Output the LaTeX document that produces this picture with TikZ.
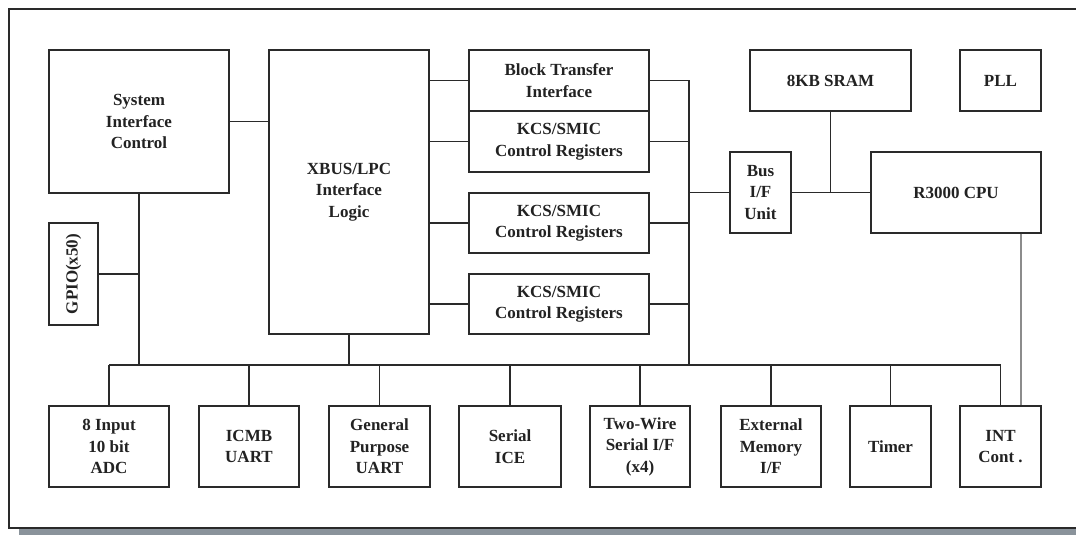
\documentclass[tikz,border=0pt]{standalone}
\usepackage{fontspec}
\setmainfont{Liberation Serif}
\definecolor{ln}{HTML}{2A2A2A}
\definecolor{txt}{HTML}{222222}
\definecolor{shadowgray}{HTML}{8A939B}
\definecolor{cpuline}{HTML}{8C8C8C}
\begin{document}
\begin{tikzpicture}[x=1pt,y=-1pt,
  blk/.style={draw=ln,line width=1.2pt,inner sep=0pt,align=center,text=txt,
    font=\fontsize{17}{21.5}\selectfont\bfseries},
  wire/.style={draw=ln,line width=1.3pt}]
\useasboundingbox (0,0) rectangle (1076,535);
% frame and shadow
\fill[shadowgray] (19,529) rectangle (1076,535);
\draw[ln,line width=1.3pt] (1076,9) -- (9,9) -- (9,528) -- (1076,528);
% top blocks
\node[blk,minimum width=180,minimum height=143] (sic) at (139,121.5) {System\\Interface\\Control};
\node[blk,minimum width=160,minimum height=284] (xbus) at (349,192) {XBUS/LPC\\Interface\\Logic};
\node[blk,minimum width=180,minimum height=61] (bti) at (559,80.5) {Block Transfer\\Interface};
\node[blk,minimum width=180,minimum height=61] (kcsa) at (559,141.5) {KCS/SMIC\\Control Registers};
\node[blk,minimum width=180,minimum height=60] (kcsb) at (559,223) {KCS/SMIC\\Control Registers};
\node[blk,minimum width=180,minimum height=60] (kcsc) at (559,304) {KCS/SMIC\\Control Registers};
\node[blk,minimum width=61,minimum height=81] (busif) at (760.5,192.5) {Bus\\I/F\\Unit};
\node[blk,minimum width=161,minimum height=61] (sram) at (830.5,80.5) {8KB SRAM};
\node[blk,minimum width=81,minimum height=61] (pll) at (1000.5,80.5) {PLL};
\node[blk,minimum width=170,minimum height=81] (cpu) at (956,192.5) {R3000 CPU};
\node[blk,minimum width=49,minimum height=102] (gpio) at (73.5,274) {\rotatebox{90}{GPIO(x50)}};
% bottom blocks
\node[blk,minimum width=120,minimum height=81] (adc) at (109,446.5) {8 Input\\10 bit\\ADC};
\node[blk,minimum width=100,minimum height=81] (icmb) at (249,446.5) {ICMB\\UART};
\node[blk,minimum width=101,minimum height=81] (gpu) at (379.5,446.5) {General\\Purpose\\UART};
\node[blk,minimum width=102,minimum height=81] (sice) at (510,446.5) {Serial\\ICE};
\node[blk,minimum width=100,minimum height=81] (tw) at (640,446.5) {Two-Wire\\Serial I/F\\(x4)};
\node[blk,minimum width=100,minimum height=81] (ext) at (771,446.5) {External\\Memory\\I/F};
\node[blk,minimum width=81,minimum height=81] (timer) at (890.5,446.5) {Timer};
\node[blk,minimum width=81,minimum height=81] (intc) at (1000.5,446.5) {INT\\Cont .};
% bus coordinates
\coordinate (rbtop) at (689,80.5);
\coordinate (rbbot) at (689,365);
\coordinate (bl) at (109,365);
\coordinate (br) at (1000.5,365);
\coordinate (cl) at (1021,300);
% connectors
\draw[wire] (sic.east) -- (sic.east -| xbus.west);
\draw[wire] (xbus.east |- bti.west) -- (bti.west);
\draw[wire] (xbus.east |- kcsa.west) -- (kcsa.west);
\draw[wire] (xbus.east |- kcsb.west) -- (kcsb.west);
\draw[wire] (xbus.east |- kcsc.west) -- (kcsc.west);
\draw[wire] (bti.east) -- (rbtop) -- (rbbot);
\draw[wire] (kcsa.east) -- (kcsa.east -| rbtop);
\draw[wire] (kcsb.east) -- (kcsb.east -| rbtop);
\draw[wire] (kcsc.east) -- (kcsc.east -| rbtop);
\draw[wire] (busif.west -| rbtop) -- (busif.west);
\draw[wire] (busif.east) -- (cpu.west);
\draw[wire] (sram.south) -- (sram.south |- cpu.west);
\draw[draw=cpuline,line width=1.2pt] (cl |- cpu.south) -- (cl |- intc.north);
% bottom bus
\draw[wire] (bl) -- (br);
\draw[wire] (sic.south) -- (sic.south |- bl);
\draw[wire] (gpio.east) -- (gpio.east -| sic.south);
\draw[wire] (xbus.south) -- (xbus.south |- bl);
\draw[wire] (adc.north) -- (bl);
\draw[wire] (icmb.north) -- (icmb.north |- bl);
\draw[wire] (gpu.north) -- (gpu.north |- bl);
\draw[wire] (sice.north) -- (sice.north |- bl);
\draw[wire] (tw.north) -- (tw.north |- bl);
\draw[wire] (ext.north) -- (ext.north |- bl);
\draw[wire] (timer.north) -- (timer.north |- bl);
\draw[wire] (intc.north) -- (br);
\end{tikzpicture}
\end{document}
